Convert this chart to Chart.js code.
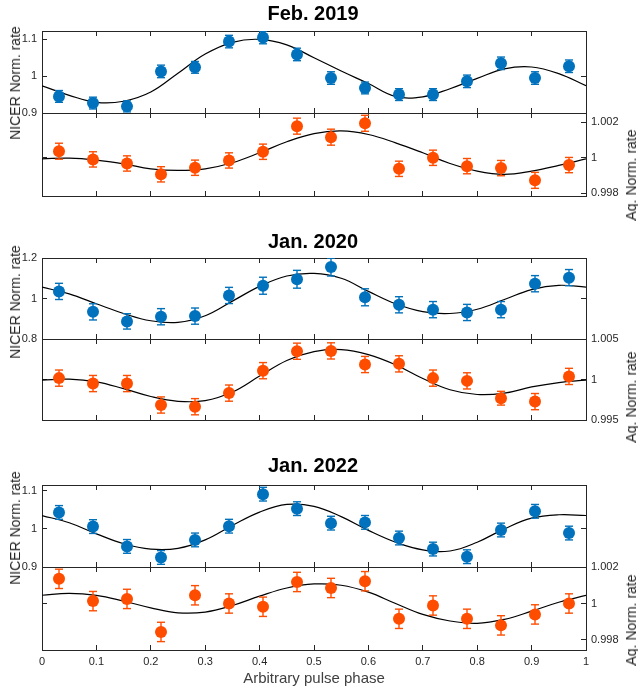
<!DOCTYPE html>
<html>
<head>
<meta charset="utf-8">
<script src="https://cdn.jsdelivr.net/npm/chart.js@4.4.1/dist/chart.umd.min.js"></script>
<style>
html,body{margin:0;padding:0;background:#fff;}
#wrap{position:relative;width:638px;height:689px;overflow:hidden;background:#fff;font-family:"Liberation Sans",Arial,sans-serif;}
#wrap canvas{position:absolute;left:0;}
.yt{position:absolute;font-size:14px;color:#262626;white-space:nowrap;transform:translate(-50%,-50%) rotate(-90deg);font-family:"Liberation Sans",Arial,sans-serif;}
</style>
</head>
<body>
<div id="wrap"></div>
<script>
// ---------------- data ----------------
const phase = [0.03125,0.09375,0.15625,0.21875,0.28125,0.34375,0.40625,0.46875,0.53125,0.59375,0.65625,0.71875,0.78125,0.84375,0.90625,0.96875];
const fitPhase = [0,0.05,0.1,0.15,0.2,0.25,0.3,0.35,0.4,0.45,0.5,0.55,0.6,0.65,0.7,0.75,0.8,0.85,0.9,0.95,1];
const xTicks = [0,0.1,0.2,0.3,0.4,0.5,0.6,0.7,0.8,0.9,1];
const titles = ['Feb. 2019','Jan. 2020','Jan. 2022'];
const nicerTitle = 'NICER Norm. rate';
const aqTitle = 'Aq. Norm. rate';
const xTitle = 'Arbitrary pulse phase';

// Feb. 2019
const nicer2019 = [0.945,0.927,0.918,1.013,1.024,1.094,1.105,1.059,0.995,0.968,0.950,0.950,0.986,1.035,0.995,1.027];
const nicer2019Err = [0.016,0.016,0.015,0.017,0.016,0.017,0.017,0.017,0.017,0.016,0.016,0.016,0.017,0.017,0.017,0.017];
const nicer2019Fit = [0.974,0.948,0.929,0.932,0.957,1.008,1.060,1.092,1.100,1.085,1.050,1.014,0.980,0.945,0.944,0.966,0.994,1.020,1.025,1.007,0.974];
const aq2019 = [1.00037,0.99991,0.99968,0.99907,0.99944,0.99985,1.00034,1.00178,1.00116,1.00194,0.99938,1.00000,0.99953,0.99942,0.99873,0.99959];
const aq2019Err = [0.00045,0.00043,0.00043,0.00043,0.00043,0.00043,0.00043,0.00045,0.00045,0.00045,0.00043,0.00043,0.00043,0.00043,0.00045,0.00043];
const aq2019Fit = [0.99994,0.99998,0.99987,0.99966,0.99938,0.99929,0.99938,0.99972,1.00028,1.00090,1.00136,1.00151,1.00131,1.00084,1.00028,0.99968,0.99925,0.99907,0.99925,0.99957,0.99994];
const nicerTicks2019 = [0.9,1,1.1];
const aqTicks2019 = [0.998,1,1.002];

// Jan. 2020
const nicer2020 = [1.035,0.934,0.887,0.910,0.913,1.015,1.063,1.095,1.155,1.006,0.969,0.945,0.931,0.945,1.073,1.103];
const nicer2020Err = [0.040,0.040,0.038,0.040,0.040,0.040,0.042,0.044,0.044,0.042,0.040,0.040,0.040,0.040,0.040,0.040];
const nicer2020Fit = [1.056,1.023,0.974,0.926,0.890,0.882,0.915,0.987,1.060,1.111,1.124,1.100,1.035,0.974,0.935,0.926,0.947,0.995,1.044,1.065,1.056];
const aq2020 = [1.00017,0.99950,0.99950,0.99685,0.99664,0.99832,1.00109,1.00349,1.00353,1.00185,1.00193,1.00017,0.99983,0.99769,0.99727,1.00038];
const aq2020Err = [0.0010,0.0010,0.0010,0.0010,0.0010,0.0010,0.0010,0.0010,0.0010,0.0010,0.0010,0.0010,0.0010,0.00085,0.0010,0.0010];
const aq2020Fit = [0.99992,1.00004,0.99971,0.99887,0.99790,0.99731,0.99739,0.99845,1.00042,1.00235,1.00345,1.00370,1.00307,1.00181,1.00013,0.99874,0.99815,0.99832,0.99908,0.99962,0.99992];
const nicerTicks2020 = [0.8,1,1.2];
const aqTicks2020 = [0.995,1,1.005];

// Jan. 2022
const nicer2022 = [1.043,1.006,0.954,0.925,0.971,1.007,1.091,1.053,1.015,1.017,0.976,0.947,0.927,0.997,1.046,0.989];
const nicer2022Err = [0.018,0.018,0.018,0.018,0.018,0.018,0.018,0.018,0.018,0.018,0.018,0.018,0.018,0.018,0.018,0.018];
const nicer2022Fit = [1.035,1.016,0.987,0.961,0.947,0.949,0.971,1.009,1.044,1.064,1.059,1.032,0.996,0.965,0.945,0.942,0.965,1.000,1.028,1.037,1.035];
const aq2022 = [1.00135,1.00013,1.00025,0.99844,1.00045,1.00000,0.99982,1.00118,1.00085,1.00122,0.99916,0.99989,0.99916,0.99880,0.99940,1.00000];
const aq2022Err = [0.00053,0.00053,0.00053,0.00053,0.00053,0.00053,0.00053,0.00053,0.00053,0.00053,0.00053,0.00053,0.00053,0.00053,0.00053,0.00053];
const aq2022Fit = [1.00045,1.00055,1.00044,1.00013,0.99976,0.99949,0.99953,0.99989,1.00040,1.00085,1.00107,1.00100,1.00062,1.00000,0.99940,0.99904,0.99891,0.99913,0.99958,1.00007,1.00044];
const nicerTicks2022 = [0.9,1,1.1];
const aqTicks2022 = [0.998,1,1.002];

// ---------------- layout / style ----------------
const W = 638, H = 689;
const FONT = '"Liberation Sans", Arial, sans-serif';
const AX = '#262626', TXT = '#262626';
const BLUE = '#0072BD', ORANGE = '#FF4D00';
const GAP = 20; // height of the unlabeled x axes between sub-plots (canvases overlap there)

const panels = [
  {title: titles[0], nicer: nicer2019, nicerErr: nicer2019Err, nicerFit: nicer2019Fit, aq: aq2019, aqErr: aq2019Err, aqFit: aq2019Fit,
   nicerTicks: nicerTicks2019, aqTicks: aqTicks2019, nMin: 0.9, nMax: 1.1227, aMin: 0.99785, aMax: 1.00252,
   top: 31, mid: 113, bot: 196, titleY: 14, nLabelY: 83, aLabelY: 175},
  {title: titles[1], nicer: nicer2020, nicerErr: nicer2020Err, nicerFit: nicer2020Fit, aq: aq2020, aqErr: aq2020Err, aqFit: aq2020Fit,
   nicerTicks: nicerTicks2020, aqTicks: aqTicks2020, nMin: 0.8, nMax: 1.2, aMin: 0.995, aMax: 1.005,
   top: 258, mid: 339, bot: 420, titleY: 242, nLabelY: 302, aLabelY: 397},
  {title: titles[2], nicer: nicer2022, nicerErr: nicer2022Err, nicerFit: nicer2022Fit, aq: aq2022, aqErr: aq2022Err, aqFit: aq2022Fit,
   nicerTicks: nicerTicks2022, aqTicks: aqTicks2022, nMin: 0.9, nMax: 1.115, aMin: 0.99745, aMax: 1.002,
   top: 485, mid: 567, bot: 650, titleY: 466, nLabelY: 528, aLabelY: 620}
];

const fmt = v => String(parseFloat(Number(v).toFixed(4)));
const wrap = document.getElementById('wrap');

function addCanvas(top, h) {
  const c = document.createElement('canvas');
  c.width = W; c.height = h;
  c.style.top = top + 'px';
  c.style.width = W + 'px'; c.style.height = h + 'px';
  wrap.appendChild(c);
  return c;
}
function addLabel(text, x, y) {
  const d = document.createElement('div');
  d.className = 'yt';
  d.textContent = text;
  d.style.left = x + 'px'; d.style.top = y + 'px';
  wrap.appendChild(d);
}

function xScale(pos, h, showLabels, title) {
  return {
    type: 'linear', position: pos, min: 0, max: 1,
    afterBuildTicks: s => { s.ticks = xTicks.map(v => ({value: v})); },
    afterFit: s => { s.height = h; },
    ticks: {display: showLabels, padding: 10, color: TXT, font: {size: 11, family: FONT}, callback: fmt, maxRotation: 0, autoSkip: false},
    grid: {display: true, drawOnChartArea: false, drawTicks: true, tickLength: -5, color: AX, lineWidth: 1},
    border: {display: true, color: AX, width: 1},
    title: title ? {display: true, text: title, color: '#404040', font: {size: 15, family: FONT}, padding: {top: 0, bottom: 1}} : {display: false}
  };
}
function yScale(pos, w, min, max, ticks, showLabels) {
  return {
    type: 'linear', position: pos, min: min, max: max,
    afterBuildTicks: s => { s.ticks = ticks.map(v => ({value: v})); },
    afterFit: s => { s.width = w; },
    ticks: {display: showLabels, padding: 10, color: TXT, font: {size: 11, family: FONT}, callback: fmt, autoSkip: false},
    grid: {display: true, drawOnChartArea: false, drawTicks: true, tickLength: -5, color: AX, lineWidth: 1},
    border: {display: true, color: AX, width: 1}
  };
}
function datasets(vals, errs, fit, color, yId) {
  const pts = phase.map((p, i) => ({x: p, y: vals[i]}));
  const stems = [];
  const caps = [];
  phase.forEach((p, i) => {
    stems.push({x: p, y: vals[i] - errs[i]}, {x: p, y: vals[i] + errs[i]}, {x: p, y: null});
    caps.push({x: p, y: vals[i] - errs[i]}, {x: p, y: vals[i] + errs[i]});
  });
  return [
    {type: 'scatter', data: pts, yAxisID: yId, order: 0, pointStyle: 'circle', pointRadius: 6, pointBackgroundColor: color, pointBorderColor: color, pointBorderWidth: 0},
    {type: 'scatter', data: caps, yAxisID: yId, order: 1, pointStyle: 'line', pointRadius: 4, pointBorderColor: color, pointBorderWidth: 1.4, pointBackgroundColor: color},
    {type: 'line', data: stems, yAxisID: yId, order: 2, showLine: true, spanGaps: false, borderColor: color, borderWidth: 1.4, pointRadius: 0, tension: 0},
    {type: 'line', data: fitPhase.map((p, i) => ({x: p, y: fit[i]})), yAxisID: yId, order: 3, showLine: true, borderColor: '#000', borderWidth: 1.2, pointRadius: 0, tension: 0.4}
  ];
}
const common = {responsive: false, animation: false, devicePixelRatio: 1, events: []};

panels.forEach((P, k) => {
  const last = k === panels.length - 1;
  // NICER (top) subplot with title
  const T = 0, B = Math.max(0, P.top - P.titleY - 12);
  const titleH = 20 + T + B;
  const nTop = P.top - 2 - titleH;
  const nH = titleH + 2 + (P.mid - P.top) + GAP;
  new Chart(addCanvas(nTop, nH), {
    type: 'scatter',
    data: {datasets: datasets(P.nicer, P.nicerErr, P.nicerFit, BLUE, 'y')},
    options: Object.assign({}, common, {
      layout: {padding: {left: 0, top: 0, bottom: 0, right: 12}},
      plugins: {
        legend: {display: false}, tooltip: {enabled: false},
        title: {display: true, text: P.title, color: '#000', font: {size: 20, weight: 'bold', family: FONT, lineHeight: 1}, padding: {top: T, bottom: B}}
      },
      scales: {
        x: xScale('bottom', GAP, false, null),
        xTop: xScale('top', 2, false, null),
        y: yScale('left', 42, P.nMin, P.nMax, P.nicerTicks, true),
        yR: yScale('right', 40, P.nMin, P.nMax, [1], false)
      }
    })
  });
  // Aq (bottom) subplot
  const bottomH = last ? (H - P.bot) : GAP;
  const aTop = P.mid - GAP;
  const aH = GAP + (P.bot - P.mid) + bottomH;
  new Chart(addCanvas(aTop, aH), {
    type: 'scatter',
    data: {datasets: datasets(P.aq, P.aqErr, P.aqFit, ORANGE, 'yR')},
    options: Object.assign({}, common, {
      layout: {padding: {left: 0, top: 0, bottom: 0, right: 12}},
      plugins: {legend: {display: false}, tooltip: {enabled: false}},
      scales: {
        x: xScale('bottom', bottomH, last, last ? xTitle : null),
        xTop: xScale('top', GAP, false, null),
        y: yScale('left', 42, P.aMin, P.aMax, [1], false),
        yR: yScale('right', 40, P.aMin, P.aMax, P.aqTicks, true)
      }
    })
  });
  addLabel(nicerTitle, 15, P.nLabelY);
  addLabel(aqTitle, 631, P.aLabelY);
});
</script>
</body>
</html>
